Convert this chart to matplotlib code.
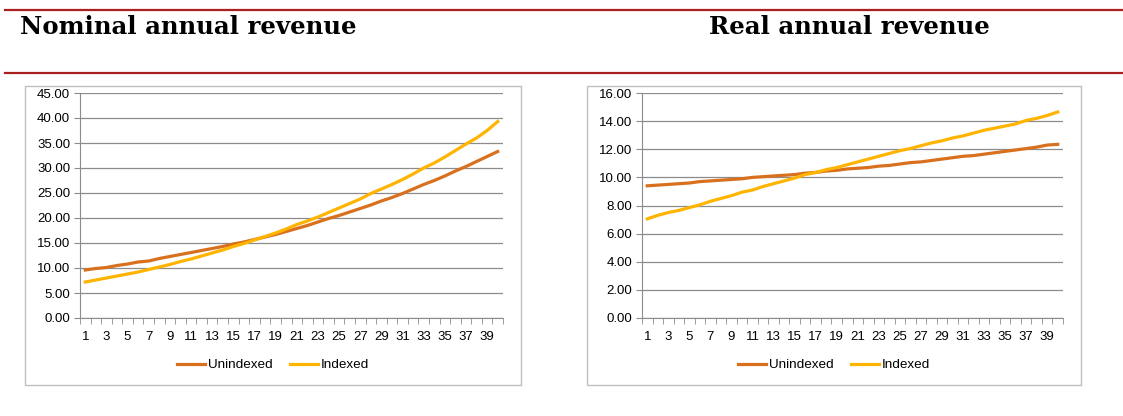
import matplotlib.pyplot as plt
from matplotlib.lines import Line2D
from matplotlib.patches import Rectangle

# years 1..40
years = list(range(1, 41))

nominal_unindexed = [9.6, 9.9, 10.1, 10.5, 10.8, 11.2, 11.4, 11.9, 12.3, 12.7,
                     13.1, 13.5, 13.9, 14.3, 14.8, 15.2, 15.7, 16.2, 16.7, 17.3,
                     17.9, 18.5, 19.2, 19.9, 20.5, 21.2, 21.9, 22.6, 23.4, 24.1,
                     24.9, 25.8, 26.7, 27.5, 28.4, 29.4, 30.3, 31.3, 32.3, 33.3]
nominal_indexed = [7.2, 7.6, 8.0, 8.4, 8.8, 9.2, 9.7, 10.2, 10.7, 11.3,
                   11.8, 12.4, 13.0, 13.6, 14.3, 14.9, 15.6, 16.3, 17.0, 17.8,
                   18.7, 19.4, 20.2, 21.1, 22.0, 22.9, 23.8, 24.9, 25.8, 26.7,
                   27.7, 28.8, 30.0, 31.0, 32.2, 33.5, 34.8, 36.0, 37.5, 39.3]
real_unindexed = [9.4, 9.45, 9.5, 9.55, 9.6, 9.7, 9.75, 9.8, 9.85, 9.9,
                  10.0, 10.05, 10.1, 10.15, 10.2, 10.3, 10.35, 10.45, 10.5, 10.6,
                  10.65, 10.7, 10.8, 10.85, 10.95, 11.05, 11.1, 11.2, 11.3, 11.4,
                  11.5, 11.55, 11.65, 11.75, 11.85, 11.95, 12.05, 12.15, 12.3, 12.35]
real_indexed = [7.05, 7.3, 7.5, 7.65, 7.85, 8.05, 8.3, 8.5, 8.7, 8.95,
                9.1, 9.35, 9.55, 9.75, 9.95, 10.2, 10.35, 10.55, 10.7, 10.9,
                11.1, 11.3, 11.5, 11.7, 11.9, 12.05, 12.25, 12.45, 12.6, 12.8,
                12.95, 13.15, 13.35, 13.5, 13.65, 13.8, 14.05, 14.2, 14.4, 14.65]

series_names = ['Unindexed', 'Indexed']
colors = ['#D9701E', '#FFB400']

plt.rcParams['font.family'] = ['Liberation Sans', 'DejaVu Sans']

fig = plt.figure(figsize=(11.23, 4.16), dpi=100)
W, H = 1123, 416

# red rules above and below the headings
red = '#A8201F'
for yp in (10, 73):
    fig.add_artist(Line2D([5 / W, 1.0], [1 - yp / H, 1 - yp / H], color=red, lw=1.6))

fig.text(20 / W, 1 - 27 / H, 'Nominal annual revenue', family='DejaVu Serif',
         weight='bold', fontsize=17.6, ha='left', va='center')
fig.text(849 / W, 1 - 27 / H, 'Real annual revenue', family='DejaVu Serif',
         weight='bold', fontsize=17.6, ha='center', va='center')

panels = [
    (25, 521, 80, 503, nominal_unindexed, nominal_indexed, 45, 5),
    (587, 1081, 642, 1063, real_unindexed, real_indexed, 16, 2),
]

for bx0, bx1, ax0, ax1, unidx, idx, ymax, step in panels:
    # chart frame
    fig.add_artist(Rectangle((bx0 / W, 1 - 385 / H), (bx1 - bx0) / W, (385 - 86) / H,
                             fill=False, edgecolor='#BFBFBF', lw=1.0))
    ax = fig.add_axes([ax0 / W, 1 - 318 / H, (ax1 - ax0) / W, 225 / H])
    ax.plot(years, unidx, color=colors[0], lw=2.3, label=series_names[0])
    ax.plot(years, idx, color=colors[1], lw=2.3, label=series_names[1])
    ax.set_xlim(0.5, 40.5)
    ax.set_ylim(0, ymax)
    yt = list(range(0, ymax + 1, step))
    ax.set_yticks(yt)
    ax.set_yticklabels(['%.2f' % v for v in yt])
    ax.yaxis.grid(True, color='#8C8C8C', lw=0.9)
    ax.set_axisbelow(True)
    ax.set_xticks(years[::2])
    ax.set_xticks([y + 0.5 for y in range(0, 41)], minor=True)
    ax.tick_params(axis='x', which='major', length=0, labelsize=9.5, pad=9)
    ax.tick_params(axis='x', which='minor', length=4, color='#8C8C8C', direction='out')
    ax.tick_params(axis='y', length=4, color='#8C8C8C', labelsize=9.5, pad=3)
    for s in ('top', 'right'):
        ax.spines[s].set_visible(False)
    for s in ('left', 'bottom'):
        ax.spines[s].set_color('#8C8C8C')
    cx = ((bx0 + bx1) / 2) / W
    ax.legend(loc='center', bbox_to_anchor=(cx, 1 - 365 / H),
              bbox_transform=fig.transFigure, ncol=2, frameon=False,
              fontsize=9.7, handlelength=2.05, columnspacing=1.3, handletextpad=0.2)

fig.savefig('out.png', dpi=100)
